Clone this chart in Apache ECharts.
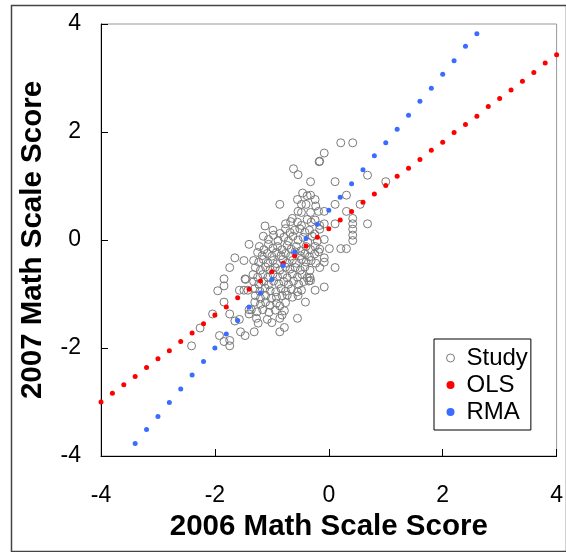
<!DOCTYPE html>
<html>
<head>
<meta charset="utf-8">
<script src="https://cdn.jsdelivr.net/npm/echarts@6/dist/echarts.min.js"></script>
<style>
html,body{margin:0;padding:0;background:#fff;}
#c{width:566px;height:552px;}
</style>
</head>
<body>
<div id="c"></div>
<script>
var xTitle = '2006 Math Scale Score';
var yTitle = '2007 Math Scale Score';
var seriesNames = ['Study', 'OLS', 'RMA'];
var tickValues = [-4, -2, 0, 2, 4];

// Study points [2006 score, 2007 score]
var studyOuter = [
[0.21,1.80],[0.42,1.80],[-0.08,1.61],[-0.17,1.45],[-0.16,1.46],[-0.62,1.32],[-0.54,1.21],[-0.32,1.08],[0.11,1.08],[0.68,1.20],[1.00,1.08],
[-0.86,0.66],[-0.46,0.87],[-0.38,0.82],[-0.32,0.83],[-0.55,0.75],[-0.24,0.75],[-0.48,0.66],[-0.40,0.66],[-0.23,0.63],[0.11,0.66],[0.31,0.83],[0.55,0.66],[0.31,0.53],[-0.18,0.53],[-0.08,0.53],[-0.54,0.53],[-0.48,0.51],[-0.32,0.51],[-0.64,0.40],
[0.42,0.40],[0.42,0.30],[0.42,0.20],[0.42,0.09],[0.42,-0.01],[0.68,0.30],[0.11,0.30],[-0.08,0.30],[-0.16,0.27],
[-1.12,0.26],[-0.08,0.01],[0.01,-0.16],[0.21,-0.16],[0.31,-0.16],[0.11,-0.51],[-0.08,-0.87],[-0.24,-0.93],[-0.41,-1.15],[-0.55,-1.45],[-0.08,-0.41],[-0.08,-0.33],[-0.16,-0.51],[-0.33,-0.70],[-0.32,-0.75],
[-1.40,-0.08],[-1.65,-0.33],[-1.49,-0.38],[-1.74,-0.51],[-1.84,-0.72],[-1.84,-0.85],[-1.95,-0.94],[-1.57,-0.93],[-1.49,-0.93],[-1.42,-0.93],[-1.47,-0.72],[-1.46,-0.73],[-1.84,-1.15],[-1.74,-1.37],[-1.65,-1.50],[-1.57,-1.47],[-1.55,-1.70],[-1.47,-1.77],[-1.31,-1.70],[-1.92,-1.77],[-1.84,-1.88],[-1.74,-1.86],[-1.74,-1.96],[-2.04,-1.37],[-2.26,-1.63],[-2.41,-1.96],[-1.40,-1.29],[-1.40,-1.37],[-1.27,-1.45],[-1.24,-1.54],[-1.08,-1.47],[-1.00,-1.53],[-0.86,-1.70],[-0.78,-1.62],[-0.86,-1.45],[-0.82,-1.39],[-0.78,-1.31]
];
var studyCore = [
[-0.76,0.30],[-0.55,0.33],[-0.48,0.27],[-0.38,0.38],[-0.31,0.33],[-0.24,0.37],[-0.67,0.34],
[-0.98,0.18],[-0.86,0.12],[-0.76,0.21],[-0.68,0.14],[-0.60,0.18],[-0.51,0.21],[-0.42,0.14],[-0.34,0.18],[-0.25,0.11],[-0.16,0.20],
[-1.15,0.07],[-1.06,0.01],[-0.97,0.09],[-0.89,-0.01],[-0.79,0.05],[-0.71,-0.02],[-0.63,0.07],[-0.54,0.00],[-0.45,0.05],[-0.37,-0.04],[-0.29,0.07],[-0.20,-0.02],
[-1.22,-0.12],[-1.14,-0.18],[-1.06,-0.08],[-0.98,-0.15],[-0.90,-0.12],[-0.82,-0.18],[-0.73,-0.10],[-0.66,-0.17],[-0.57,-0.12],[-0.49,-0.20],[-0.40,-0.12],[-0.32,-0.18],[-0.24,-0.12],[-0.16,-0.17],
[-1.25,-0.23],[-1.17,-0.29],[-1.08,-0.25],[-1.00,-0.30],[-0.92,-0.23],[-0.84,-0.29],[-0.76,-0.25],[-0.67,-0.30],[-0.59,-0.22],[-0.50,-0.29],[-0.42,-0.25],[-0.34,-0.31],[-0.25,-0.26],[-0.18,-0.22],
[-1.32,-0.38],[-1.23,-0.41],[-1.15,-0.36],[-1.07,-0.43],[-0.98,-0.38],[-0.91,-0.44],[-0.81,-0.36],[-0.73,-0.43],[-0.64,-0.38],[-0.57,-0.43],[-0.48,-0.36],[-0.40,-0.41],[-0.31,-0.38],[-0.23,-0.43],
[-1.29,-0.51],[-1.20,-0.56],[-1.11,-0.50],[-1.03,-0.55],[-0.94,-0.51],[-0.86,-0.56],[-0.76,-0.50],[-0.68,-0.54],[-0.59,-0.51],[-0.50,-0.56],[-0.42,-0.50],[-0.33,-0.56],
[-1.33,-0.64],[-1.25,-0.69],[-1.16,-0.64],[-1.07,-0.69],[-0.98,-0.63],[-0.90,-0.68],[-0.81,-0.64],[-0.73,-0.70],[-0.64,-0.63],[-0.55,-0.69],[-0.47,-0.64],[-0.38,-0.70],
[-1.32,-0.77],[-1.23,-0.82],[-1.14,-0.77],[-1.06,-0.83],[-0.97,-0.76],[-0.88,-0.81],[-0.79,-0.77],[-0.71,-0.82],[-0.62,-0.76],[-0.53,-0.82],[-0.44,-0.77],[-0.35,-0.76],
[-1.30,-0.90],[-1.21,-0.95],[-1.12,-0.89],[-1.03,-0.94],[-0.93,-0.96],[-0.84,-0.90],[-0.76,-0.95],[-0.66,-0.91],[-0.55,-0.96],[-0.48,-0.93],
[-1.29,-1.03],[-1.20,-1.08],[-1.11,-1.03],[-1.01,-1.08],[-0.92,-1.06],[-0.82,-1.03],[-0.73,-1.02],[-0.64,-1.06],[-0.54,-1.03],
[-1.30,-1.15],[-1.20,-1.19],[-1.11,-1.15],[-1.03,-1.21],[-0.92,-1.17],[-0.86,-1.22],[-0.76,-1.16],
[-1.36,-1.29],[-1.26,-1.33],[-1.16,-1.29],[-1.05,-1.34],[-0.94,-1.30]
];

// OLS fitted points
var olsX = [-4,-3.8,-3.6,-3.4,-3.2,-3,-2.8,-2.6,-2.4,-2.2,-2,-1.8,-1.6,-1.4,-1.2,-1,-0.8,-0.6,-0.4,-0.2,0,0.2,0.4,0.6,0.8,1,1.2,1.4,1.6,1.8,2,2.2,2.4,2.6,2.8,3,3.2,3.4,3.6,3.8,4];
var olsY = [-3.00,-2.84,-2.68,-2.53,-2.36,-2.20,-2.05,-1.88,-1.72,-1.55,-1.39,-1.24,-1.07,-0.91,-0.76,-0.59,-0.43,-0.29,-0.11,0.05,0.21,0.37,0.53,0.70,0.85,1.01,1.18,1.33,1.49,1.66,1.81,1.99,2.14,2.29,2.47,2.62,2.78,2.94,3.10,3.28,3.43];

// RMA fitted points
var rmaX = [-3.4,-3.2,-3,-2.8,-2.6,-2.4,-2.2,-2,-1.8,-1.6,-1.4,-1.2,-1,-0.8,-0.6,-0.4,-0.2,0,0.2,0.4,0.6,0.8,1,1.2,1.4,1.6,1.8,2,2.2,2.4,2.6];
var rmaY = [-3.77,-3.51,-3.27,-3.01,-2.76,-2.50,-2.25,-2.00,-1.74,-1.49,-1.24,-0.98,-0.73,-0.47,-0.22,0.03,0.29,0.55,0.79,1.04,1.30,1.56,1.80,2.05,2.31,2.57,2.81,3.07,3.32,3.59,3.82];

function pairs(xs, ys) { return xs.map(function (x, i) { return [x, ys[i]]; }); }

var FONT = '"Liberation Sans", Arial, sans-serif';
var chart = echarts.init(document.getElementById('c'), null, {renderer: 'canvas'});
var axisCommon = {
  type: 'value', min: -4, max: 4, interval: 2,
  splitLine: {show: false},
  axisLine: {show: true, onZero: false, lineStyle: {color: '#000', width: 1}},
  axisTick: {show: true, inside: true, length: 7, lineStyle: {color: '#000'}},
  nameLocation: 'middle',
  nameTextStyle: {fontFamily: FONT, fontWeight: 'bold', fontSize: 29.5, color: '#000'}
};
chart.setOption({
  animation: false,
  backgroundColor: '#fff',
  grid: {left: 101, right: 7, top: 24, bottom: 96, show: true, borderColor: '#999', borderWidth: 1},
  xAxis: Object.assign({}, axisCommon, {
    name: xTitle, nameGap: 56,
    axisLabel: {margin: 28, fontFamily: FONT, fontSize: 23, color: '#000',
      formatter: function (v) { return tickValues.indexOf(v) >= 0 ? String(v) : ''; }}
  }),
  yAxis: Object.assign({}, axisCommon, {
    name: yTitle, nameGap: 53, nameRotate: 90,
    axisLabel: {margin: 20, fontFamily: FONT, fontSize: 23, color: '#000',
      formatter: function (v) { return tickValues.indexOf(v) >= 0 ? String(v) : ''; }}
  }),
  legend: {
    orient: 'vertical', left: 434, top: 339,
    padding: [7, 3, 6, 12], itemGap: 3,
    borderColor: '#000', borderWidth: 1,
    itemWidth: 8, itemHeight: 8, itemTextGap: 10,
    textStyle: {fontFamily: FONT, fontSize: 24, color: '#000', padding: [0, 0, 0, 7]},
    data: [
      {name: seriesNames[0], icon: 'circle', itemStyle: {color: 'rgba(0,0,0,0)', borderColor: '#7a7a7a', borderWidth: 1}},
      {name: seriesNames[1], icon: 'circle'},
      {name: seriesNames[2], icon: 'circle'}
    ]
  },
  graphic: [{type: 'rect', left: 9, top: 3, shape: {width: 555, height: 546}, style: {fill: 'none', stroke: '#444', lineWidth: 1.5}, silent: true}],
  series: [
    {name: seriesNames[0], type: 'scatter', symbol: 'circle', symbolSize: 8,
     itemStyle: {color: 'rgba(0,0,0,0)', borderColor: '#7a7a7a', borderWidth: 1, opacity: 1},
     data: studyOuter.concat(studyCore), z: 2},
    {name: seriesNames[1], type: 'scatter', symbol: 'circle', symbolSize: 5,
     itemStyle: {color: '#ff0000', opacity: 1}, data: pairs(olsX, olsY), z: 3},
    {name: seriesNames[2], type: 'scatter', symbol: 'circle', symbolSize: 5,
     itemStyle: {color: '#3a6cff', opacity: 1}, data: pairs(rmaX, rmaY), z: 4}
  ]
});
</script>
</body>
</html>
